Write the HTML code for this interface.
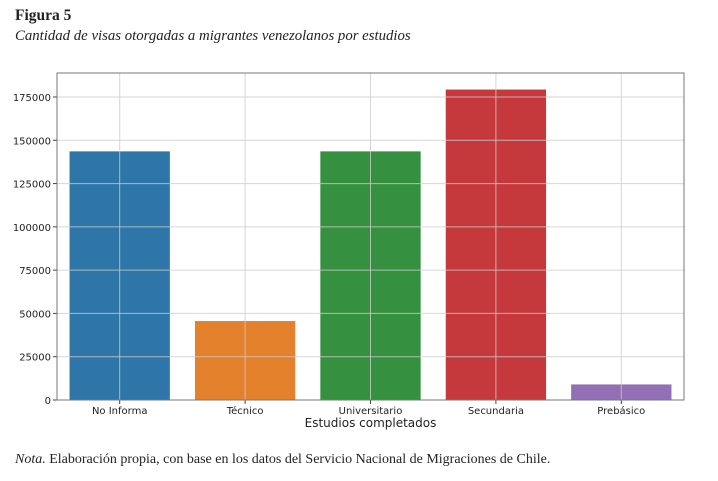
<!DOCTYPE html>
<html><head><meta charset="utf-8"><style>
body{margin:0;background:#fff;width:718px;height:481px;overflow:hidden;font-family:"DejaVu Sans",sans-serif}
.t{position:absolute;font-family:"Liberation Serif",serif;color:#222}
</style></head><body>
<div class="t" style="left:15px;top:7px;font-size:15.5px;font-weight:bold">Figura 5</div>
<div class="t" style="left:15px;top:28px;font-size:14.8px;font-style:italic">Cantidad de visas otorgadas a migrantes venezolanos por estudios</div>
<div class="t" style="left:15px;top:452px;font-size:14px"><i>Nota.</i> Elaboración propia, con base en los datos del Servicio Nacional de Migraciones de Chile.</div>
<svg id="c" width="718" height="481" style="position:absolute;left:0;top:0"></svg>
<script>
const categories=["No Informa","Técnico","Universitario","Secundaria","Prebásico"];
const values=[143600,45600,143600,179300,9000];
const colors=["#2e75a8","#e3812d","#35913f","#c5393c","#9270b4"];
const ticks=[0,25000,50000,75000,100000,125000,150000,175000];
const L=57,R=684,T=73,B=400;
const y=v=>B-v*(B-97)/175000;
const bw=(R-L)/categories.length;
const x=i=>L+bw*(i+0.5);
const s=document.getElementById('c');const NS="http://www.w3.org/2000/svg";
function add(tag,a,txt){const e=document.createElementNS(NS,tag);for(const k in a)e.setAttribute(k,a[k]);if(txt!=null)e.textContent=txt;s.appendChild(e);return e;}
categories.forEach((c,i)=>{
 const h=add('rect',{x:x(i)-bw*0.4,y:y(values[i]),width:bw*0.8,height:B-y(values[i]),fill:colors[i]});
 
 
});
ticks.forEach(t=>{
 const g=add('line',{x1:L,x2:R,y1:y(t),y2:y(t),stroke:'#ccc','stroke-width':1,'stroke-opacity':0.8});
 
 
 add('line',{x1:L-4,x2:L,y1:y(t),y2:y(t),stroke:'#444'});
 const l=add('text',{x:L-6,y:y(t)+4,'text-anchor':'end','font-size':10,fill:'#222'},t);
 
 
});
categories.forEach((c,i)=>{
 add('line',{x1:x(i),x2:x(i),y1:T,y2:B,stroke:'#ccc','stroke-opacity':0.8});
 add('line',{x1:x(i),x2:x(i),y1:B,y2:B+4,stroke:'#444'});
 const l=add('text',{x:x(i),y:B+14,'text-anchor':'middle','font-size':10,fill:'#222'},c);
 
 
});
const f=add('rect',{x:L,y:T,width:R-L,height:B-T,fill:'none',stroke:'#777','stroke-width':1});


const xt=add('text',{x:(L+R)/2,y:427,'text-anchor':'middle','font-size':12,fill:'#222'},'Estudios completados');


</script>
</body></html>
